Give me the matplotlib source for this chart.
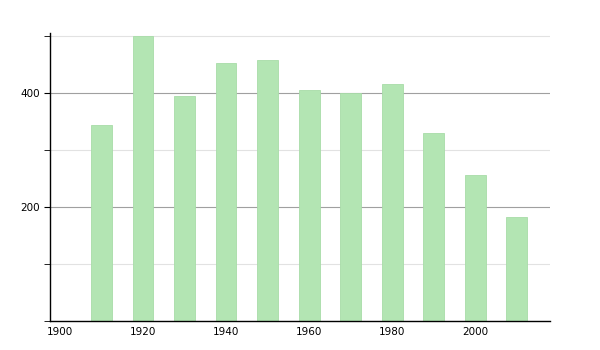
import matplotlib.pyplot as plt
from matplotlib.ticker import MultipleLocator

years = [1910, 1920, 1930, 1940, 1950, 1960, 1970, 1980, 1990, 2000, 2010]
population = [344, 500, 396, 453, 458, 405, 400, 416, 330, 256, 182]
xticks = [1900, 1920, 1940, 1960, 1980, 2000]
yticks = [200, 400]

fig = plt.figure(figsize=(6, 3.5), dpi=100)
ax = fig.add_axes([0.0833, 0.083, 0.8334, 0.823])

ax.bar(years, population, width=5, color='#b3e5b3', edgecolor='#a8dca8', linewidth=0.6, zorder=2)

ax.set_xlim(1897.6, 2018)
ax.set_ylim(0, 506)
ax.set_xticks(xticks)
ax.set_yticks(yticks)
ax.yaxis.set_minor_locator(MultipleLocator(100))
ax.grid(True, which='major', axis='y', color='#a0a0a0', linewidth=0.8, zorder=0)
ax.grid(True, which='minor', axis='y', color='#e2e2e2', linewidth=0.8, zorder=0)

for s in ['top', 'right']:
    ax.spines[s].set_visible(False)
ax.spines['left'].set_linewidth(1.0)
ax.spines['bottom'].set_linewidth(1.0)
ax.tick_params(axis='x', length=0, labelsize=7.5, pad=4)
ax.tick_params(axis='y', which='major', length=4, labelsize=7.5, pad=3)
ax.tick_params(axis='y', which='minor', length=4)
ax.set_yticklabels([], minor=True)

fig.savefig('out.png', dpi=100)
